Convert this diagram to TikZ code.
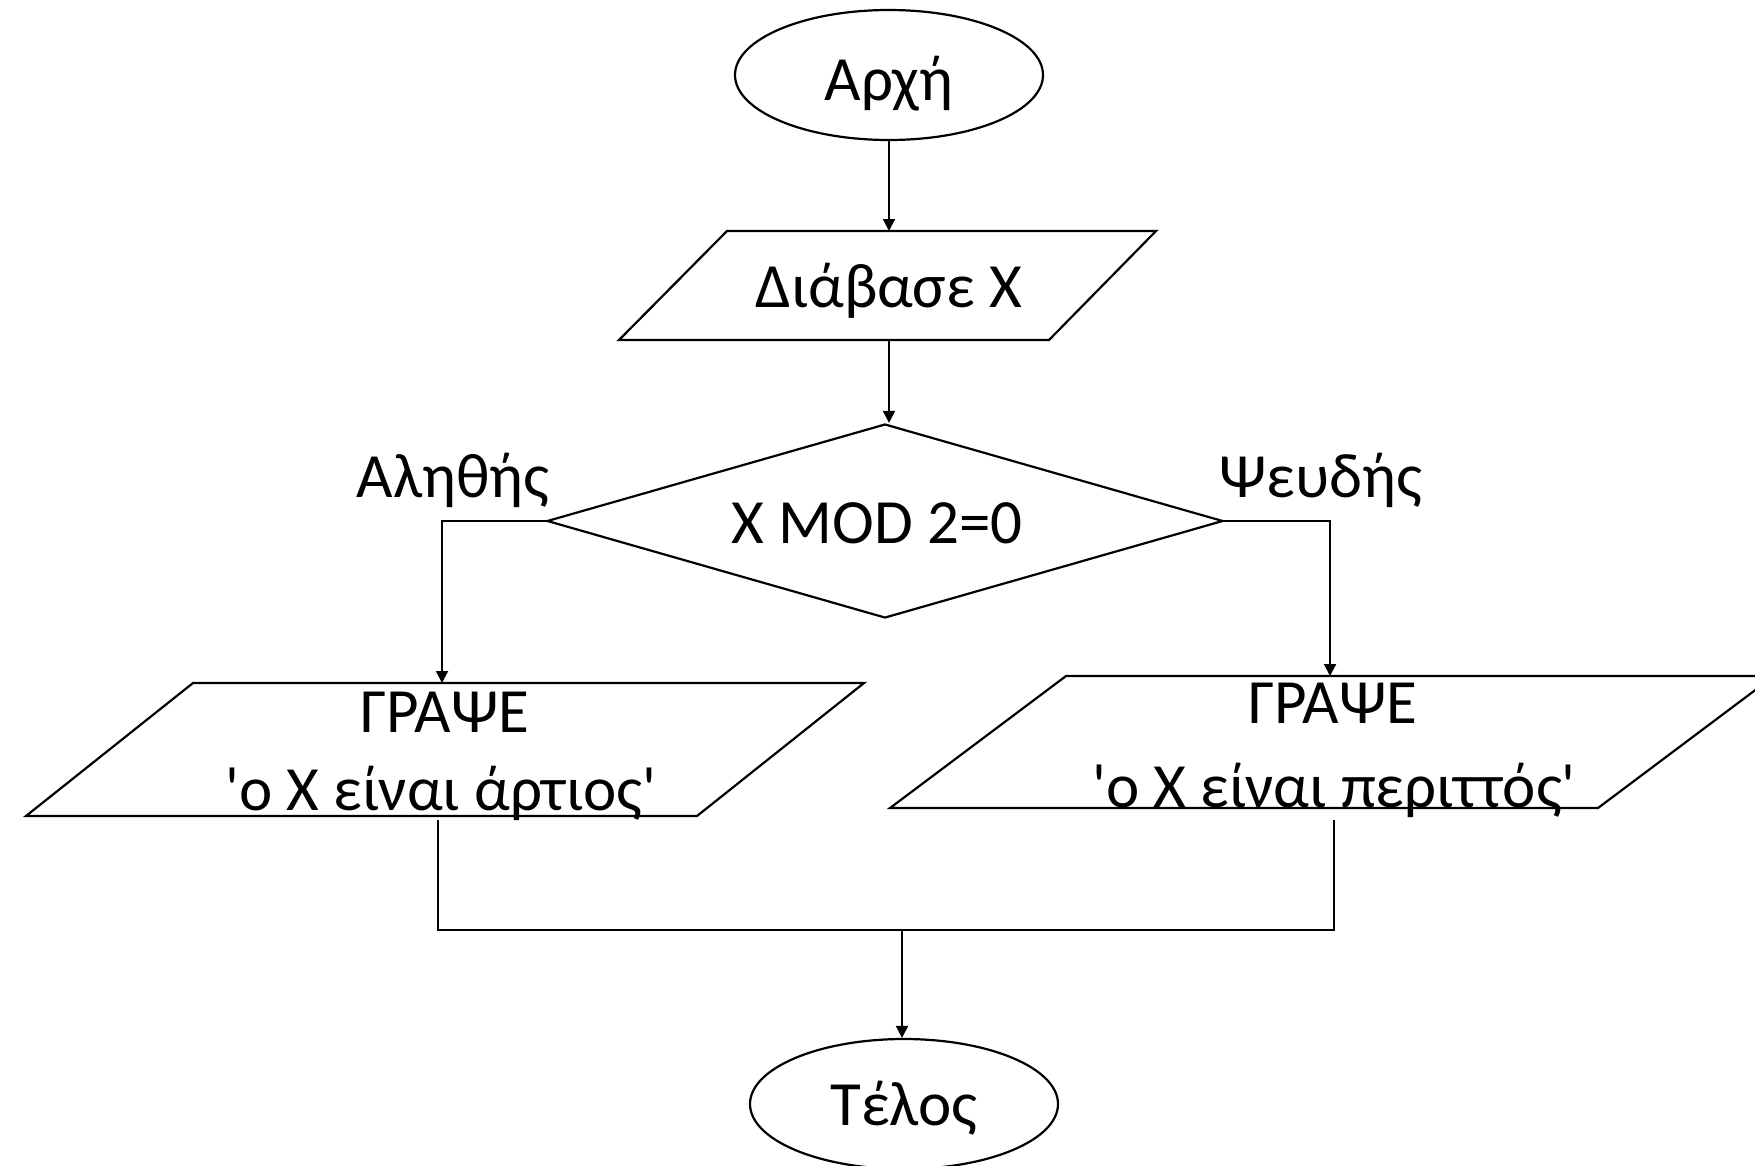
\documentclass[tikz,border=0pt]{standalone}
\usepackage{fontspec}
\setmainfont{Carlito}
\usetikzlibrary{shapes.geometric,arrows.meta,calc}

\begin{document}
\begin{tikzpicture}[x=1pt,y=-1pt,
  every node/.style={font=\fontsize{63}{78}\selectfont, inner sep=0pt},
  shape line/.style={line width=2.2pt, line join=miter},
  link/.style={line width=2pt},
  arr/.style={link, -{Triangle[length=12pt,width=12pt]}},
  terminal/.style={ellipse, draw, shape line, minimum width=308pt, minimum height=130pt},
  decision/.style={diamond, draw, shape line, aspect=3.48, minimum width=676pt, minimum height=194pt},
  label/.style={anchor=base}
]
\useasboundingbox (0,0) rectangle (1755,1165);
\clip (0,0) rectangle (1755,1165);

% start
\node[terminal, text height=50pt, text depth=0pt] (start) at (889,75) {Αρχή};

% input
\coordinate (rdTL) at (727,231);
\coordinate (rdTR) at (1156,231);
\coordinate (rdBR) at (1049,340);
\coordinate (rdBL) at (619,340);
\draw[shape line] (rdTL) -- (rdTR) -- (rdBR) -- (rdBL) -- cycle;
\node[label] (read) at (889,307) {Διάβασε Χ};
\coordinate (readT) at (889,231);
\coordinate (readB) at (889,340);

% decision
\node[decision] (dec) at (885,521) {};
\node[label] (cond) at (877,543) {X MOD 2=0};
\node[label] (yes) at (453,497) {Αληθής};
\node[label] (no) at (1321,497) {Ψευδής};

% output: even
\coordinate (evTL) at (193,683);
\coordinate (evTR) at (864,683);
\coordinate (evBR) at (697,816);
\coordinate (evBL) at (26,816);
\draw[shape line] (evTL) -- (evTR) -- (evBR) -- (evBL) -- cycle;
\node[label] (evenA) at (445,732) {ΓΡΑΨΕ};
\node[label] (evenB) at (441,810) {\textquotesingle ο Χ είναι άρτιος\textquotesingle};
\coordinate (evenT) at (442,683);
\coordinate (evenOut) at (438,820);

% output: odd
\coordinate (odTL) at (1066,676);
\coordinate (odTR) at (1774,676);
\coordinate (odBR) at (1598,808);
\coordinate (odBL) at (890,808);
\draw[shape line] (odTL) -- (odTR) -- (odBR) -- (odBL) -- cycle;
\node[label] (oddA) at (1333,723) {ΓΡΑΨΕ};
\node[label] (oddB) at (1334,807) {\textquotesingle ο Χ είναι περιττός\textquotesingle};
\coordinate (oddT) at (1330,676);
\coordinate (oddOut) at (1334,820);

% end
\node[terminal, text height=42pt, text depth=0pt] (stop) at (904,1104) {Τέλος};

% connectors
\coordinate (join) at (902,930);
\draw[arr] (start.south) -- (readT);
\draw[arr] (readB) -- (readB |- dec.north);
\draw[arr] (dec.west) -| (evenT);
\draw[arr] (dec.east) -| (oddT);
\draw[link] (evenOut) |- (join);
\draw[link] (oddOut) |- (join);
\draw[arr] (join) -- (join |- stop.north);
\end{tikzpicture}
\end{document}
